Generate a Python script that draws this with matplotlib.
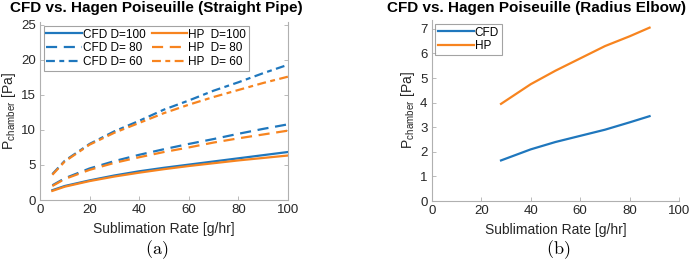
import numpy as np
import matplotlib
matplotlib.use("Agg")
import matplotlib.pyplot as plt

# Straight pipe data (sublimation rate in g/hr, chamber pressure in Pa)
rate_straight = [5, 10, 20, 30, 40, 50, 60, 70, 80, 90, 100]
cfd_d100 = [1.4, 2.0, 2.8, 3.5, 4.1, 4.6, 5.05, 5.5, 5.95, 6.4, 6.85]
cfd_d80 = [2.1, 3.1, 4.5, 5.55, 6.45, 7.25, 8.0, 8.7, 9.45, 10.15, 10.8]
cfd_d60 = [3.7, 5.6, 8.0, 9.8, 11.3, 12.9, 14.2, 15.6, 16.8, 18.1, 19.3]
hp_d100 = [1.3, 1.9, 2.7, 3.35, 3.9, 4.4, 4.85, 5.25, 5.65, 6.0, 6.35]
hp_d80 = [2.0, 3.0, 4.3, 5.3, 6.1, 6.85, 7.5, 8.2, 8.8, 9.35, 9.9]
hp_d60 = [3.6, 5.5, 7.9, 9.6, 11.0, 12.4, 13.6, 14.7, 15.7, 16.7, 17.6]

# Radius elbow data
rate_elbow = [28, 40, 50, 60, 70, 80, 88]
cfd_elbow = [1.65, 2.1, 2.4, 2.65, 2.9, 3.2, 3.45]
hp_elbow = [3.95, 4.75, 5.3, 5.8, 6.3, 6.7, 7.05]

blue = '#1f77bd'
orange = '#f7841f'
spine_col = '#b0b0b0'
text_col = '#262626'

plt.rcParams['font.family'] = ['Liberation Sans', 'DejaVu Sans']
plt.rcParams['mathtext.fontset'] = 'cm'

fig = plt.figure(figsize=(7.0, 2.64), dpi=100)
ax1 = fig.add_axes([0.0571, 0.2424, 0.3543, 0.6742])
ax2 = fig.add_axes([0.6167, 0.2386, 0.3537, 0.6856])


def style_axes(ax, right_spine):
    ax.spines['top'].set_visible(False)
    ax.spines['right'].set_visible(right_spine)
    for s in ['left', 'bottom', 'right']:
        ax.spines[s].set_color(spine_col)
        ax.spines[s].set_linewidth(0.8)
    ax.tick_params(direction='in', length=3, width=0.6, color=spine_col,
                   labelsize=9.5, labelcolor=text_col, pad=3,
                   right=right_spine)
    ax.set_xlabel('Sublimation Rate [g/hr]', fontsize=10, color=text_col, labelpad=4)
    ax.set_ylabel(r'P$_{\mathregular{chamber}}$ [Pa]', fontsize=10, color=text_col, labelpad=2)


lw = 1.6
dashdot = (0, (4, 2, 2.2, 2))
ax1.plot(rate_straight, cfd_d100, color=blue, lw=lw, ls='-', label='CFD D=100')
ax1.plot(rate_straight, cfd_d80, color=blue, lw=lw, ls=(0, (5, 3)), label='CFD D= 80')
ax1.plot(rate_straight, cfd_d60, color=blue, lw=lw, ls=dashdot, label='CFD D= 60')
ax1.plot(rate_straight, hp_d100, color=orange, lw=lw, ls='-', label='HP  D=100')
ax1.plot(rate_straight, hp_d80, color=orange, lw=lw, ls=(0, (5, 3)), label='HP  D= 80')
ax1.plot(rate_straight, hp_d60, color=orange, lw=lw, ls=dashdot, label='HP  D= 60')
ax1.set_xlim(0, 100)
ax1.set_ylim(0, 25.4)
ax1.set_xticks([0, 20, 40, 60, 80, 100])
ax1.set_yticks([0, 5, 10, 15, 20, 25])
style_axes(ax1, True)
leg1 = ax1.legend(loc='upper left', ncol=2, fontsize=8.5, frameon=True, fancybox=False,
                  edgecolor='#8c8c8c', handlelength=3.0, handletextpad=0.1,
                  columnspacing=0.5, labelspacing=0.15, borderpad=0.25,
                  borderaxespad=0.3)
leg1.get_frame().set_linewidth(0.8)

ax2.plot(rate_elbow, cfd_elbow, color=blue, lw=lw, label='CFD')
ax2.plot(rate_elbow, hp_elbow, color=orange, lw=lw, label='HP')
ax2.set_xlim(0, 100)
ax2.set_ylim(0, 7.36)
ax2.set_xticks([0, 20, 40, 60, 80, 100])
ax2.set_yticks([0, 1, 2, 3, 4, 5, 6, 7])
style_axes(ax2, False)
leg2 = ax2.legend(loc='upper left', fontsize=8.5, frameon=True, fancybox=False,
                  edgecolor='#8c8c8c', handlelength=3.0, handletextpad=0.1,
                  labelspacing=0.15, borderpad=0.25, borderaxespad=0.3)
leg2.get_frame().set_linewidth(0.8)

# titles sit slightly left of the axes centre, as in the original
fig.text(0.224, 0.968, 'CFD vs. Hagen Poiseuille (Straight Pipe)', fontsize=11,
         fontweight='bold', ha='center', va='center')
fig.text(0.767, 0.968, 'CFD vs. Hagen Poiseuille (Radius Elbow)', fontsize=11,
         fontweight='bold', ha='center', va='center')

fig.text(0.224, 0.053, r'$\mathrm{(a)}$', fontsize=13, ha='center', va='center')
fig.text(0.797, 0.053, r'$\mathrm{(b)}$', fontsize=13, ha='center', va='center')

fig.savefig('out.png', dpi=100)
